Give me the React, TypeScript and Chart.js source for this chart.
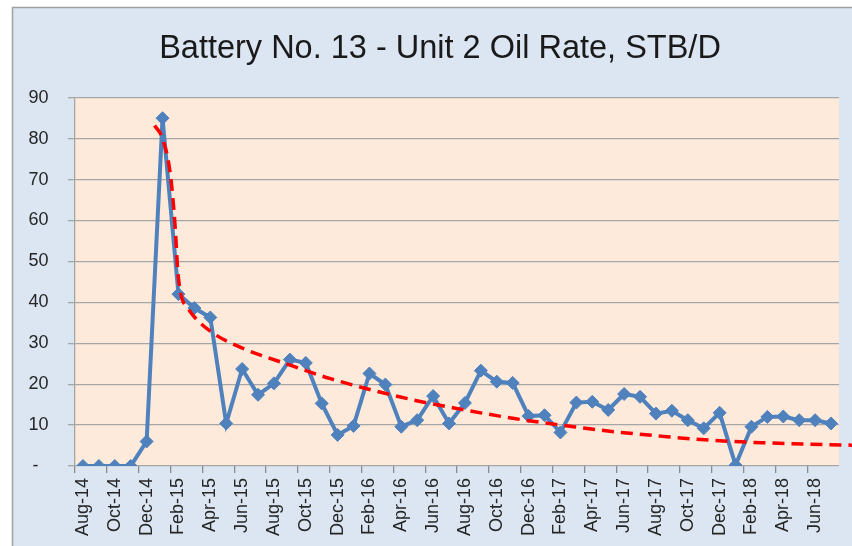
import React, { useEffect, useRef } from "react";
import { Chart, registerables } from "chart.js";

Chart.register(...registerables);

const TITLE = "Battery No. 13 - Unit 2 Oil Rate, STB/D";

const months: string[] = [
  "Aug-14", "Sep-14", "Oct-14", "Nov-14", "Dec-14", "Jan-15", "Feb-15", "Mar-15",
  "Apr-15", "May-15", "Jun-15", "Jul-15", "Aug-15", "Sep-15", "Oct-15", "Nov-15",
  "Dec-15", "Jan-16", "Feb-16", "Mar-16", "Apr-16", "May-16", "Jun-16", "Jul-16",
  "Aug-16", "Sep-16", "Oct-16", "Nov-16", "Dec-16", "Jan-17", "Feb-17", "Mar-17",
  "Apr-17", "May-17", "Jun-17", "Jul-17", "Aug-17", "Sep-17", "Oct-17", "Nov-17",
  "Dec-17", "Jan-18", "Feb-18", "Mar-18", "Apr-18", "May-18", "Jun-18", "Jul-18",
];

const oilRate: number[] = [
  0, 0, 0, 0, 6, 85, 42, 38.6,
  36.3, 10.4, 23.7, 17.4, 20.2, 26, 25.2, 15.3,
  7.6, 9.8, 22.6, 19.9, 9.6, 11.2, 17.1, 10.4,
  15.4, 23.3, 20.6, 20.3, 12.2, 12.4, 8.2, 15.5,
  15.7, 13.7, 17.6, 16.9, 12.8, 13.5, 11.2, 9.2,
  13.0, 0.2, 9.6, 12.0, 12.1, 11.2, 11.2, 10.4,
];

// trend curve (x = month index, y = STB/D)
const trendX: number[] = [4.5, 5.0, 5.5, 5.8, 5.95, 6.15, 6.6, 7.0, 8.2, 9.9, 13.2, 15.5, 20.8, 23.7, 27.1, 30.8, 33.1, 36.3, 39.4, 42.6, 48.6];
const trendY: number[] = [83.2, 80, 71, 58, 48, 42, 38.5, 36.4, 32.4, 29, 24.4, 21.4, 16.1, 13.9, 11.6, 9.6, 8.5, 7.3, 6.3, 5.7, 5.05];

const yTicks: number[] = [0, 10, 20, 30, 40, 50, 60, 70, 80, 90];

const FONT = "'Liberation Sans', Arial, sans-serif";

const framePlugin = {
  id: "frame",
  beforeDraw(chart: any) {
    const { ctx, width, height, chartArea } = chart;
    ctx.save();
    ctx.fillStyle = "#ffffff";
    ctx.fillRect(0, 0, width, height);
    ctx.fillStyle = "#DCE6F2";
    ctx.fillRect(12, 7, width - 12, height - 7);
    ctx.strokeStyle = "#a0a0a0";
    ctx.lineWidth = 1.5;
    ctx.beginPath();
    ctx.moveTo(12.5, height);
    ctx.lineTo(12.5, 7.5);
    ctx.lineTo(width, 7.5);
    ctx.stroke();
    ctx.fillStyle = "#FDEADA";
    ctx.fillRect(chartArea.left, chartArea.top, chartArea.right - chartArea.left, chartArea.bottom - chartArea.top);
    ctx.restore();
  },
  afterDraw(chart: any) {
    const { ctx } = chart;
    ctx.save();
    ctx.fillStyle = "#1a1a1a";
    ctx.font = `32.5px ${FONT}`;
    ctx.textAlign = "center";
    ctx.textBaseline = "alphabetic";
    ctx.fillText(TITLE, 440, 58);
    ctx.restore();
  },
};

export default function App() {
  const ref = useRef<HTMLCanvasElement>(null);

  useEffect(() => {
    document.body.style.margin = "0";
    document.body.style.overflow = "hidden";
    const canvas = ref.current!;
    const chart = new Chart(canvas, {
      type: "line",
      data: {
        labels: months,
        datasets: [
          {
            label: "Trend",
            data: trendX.map((x, i) => ({ x, y: trendY[i] })),
            xAxisID: "xt",
            borderColor: "#FF0000",
            borderWidth: 3.5,
            borderDash: [12, 7],
            pointRadius: 0,
            cubicInterpolationMode: "monotone",
            fill: false,
            clip: false as any,
            order: 0,
          } as any,
          {
            label: "Oil Rate",
            data: oilRate,
            xAxisID: "x",
            borderColor: "#4F81BD",
            backgroundColor: "#4F81BD",
            borderWidth: 4,
            pointStyle: "rectRot",
            pointRadius: 6.5,
            pointBorderWidth: 1,
            pointBackgroundColor: "#4F81BD",
            pointBorderColor: "#4F81BD",
            tension: 0,
            fill: false,
            order: 1,
          },
        ],
      },
      options: {
        animation: false,
        responsive: false,
        devicePixelRatio: 1,
        layout: { padding: { left: 12, top: 97.7, right: 13, bottom: 0 } },
        plugins: {
          legend: { display: false },
          title: { display: false },
          tooltip: { enabled: false },
        },
        scales: {
          x: {
            type: "category",
            offset: true,
            afterFit: (s: any) => {
              s.height = 80;
              s.paddingLeft = 0;
              s.paddingRight = 0;
            },
            grid: {
              offset: true,
              drawOnChartArea: false,
              drawTicks: true,
              tickLength: 7,
              lineWidth: 1.3,
              color: (c: any) => (c.index % 2 === 0 ? "#8c8c8c" : "rgba(0,0,0,0)"),
            },
            border: { display: false },
            ticks: {
              autoSkip: false,
              maxRotation: 90,
              minRotation: 90,
              padding: 5,
              color: "#262626",
              font: { family: FONT, size: 18 },
              callback: (_v: any, i: number) => (i % 2 === 0 ? months[i] : ""),
            },
          },
          xt: {
            type: "linear",
            display: false,
            min: -0.5,
            max: 47.5,
          },
          y: {
            min: 0,
            max: 90,
            afterFit: (s: any) => { s.width = 63; },
            afterBuildTicks: (s: any) => { s.ticks = yTicks.map((v) => ({ value: v })); },
            grid: {
              color: "#a6a6a6",
              lineWidth: 1.3,
              tickLength: 7,
              drawTicks: true,
            },
            border: { display: true, color: "#a6a6a6", width: 1.3 },
            ticks: {
              padding: 19.5,
              color: "#262626",
              font: { family: FONT, size: 18 },
              callback: (v: any) => (v === 0 ? "-  " : String(v)),
            },
          },
        },
      },
      plugins: [framePlugin],
    });
    return () => chart.destroy();
  }, []);

  return <canvas ref={ref} width={852} height={546} style={{ display: "block", width: 852, height: 546 }} />;
}
